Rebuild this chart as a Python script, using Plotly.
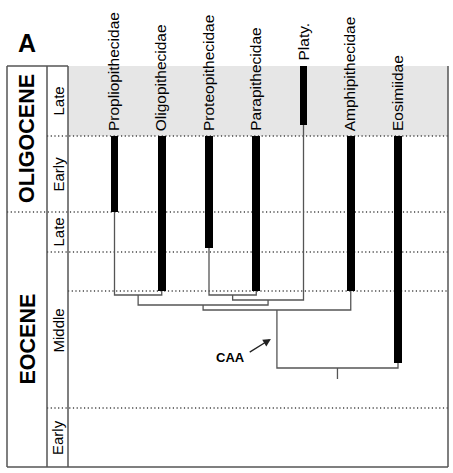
import plotly.graph_objects as go

# ---------------- data ----------------
taxa = ["Propliopithecidae", "Oligopithecidae", "Proteopithecidae",
        "Parapithecidae", "Platy.", "Amphipithecidae", "Eosimiidae"]
# stratigraphic range of each taxon (relative time units, 0 = top of chart, increasing = older)
range_top = [70, 70, 70, 70, 0, 70, 70]
range_bottom = [146, 225, 182, 225, 59, 225, 297]

epochs = ["OLIGOCENE", "EOCENE"]
epoch_bounds = [0, 146, 401]
stages = ["Late", "Early", "Late", "Middle", "Early"]
stage_bounds = [0, 70, 146, 186, 342, 401]
extra_levels = [225]

# tree nodes: (left child, right child, join level); children "t#" = taxon, "n#" = node
nodes = [("t0", "t1", 229), ("t2", "t3", 229), ("n1", "t4", 234),
         ("n0", "n2", 239), ("n3", "t5", 244), ("n4", "t6", 302)]
root_end = 313

caa_label = "CAA"
caa_head = (3.31, 273)
caa_tail = (2.83, 287)
caa_text_pos = (2.46, 291)

# ---------------- layout helpers ----------------
W, H = 453, 473
PX0, PXS = 114.5, 47.25          # pixel of taxon 0, pixel spacing
PY0 = 66                         # pixel of time 0
xr = [(0 - PX0) / PXS, (W - PX0) / PXS]
yr = [H - PY0, 0 - PY0]


def px(p):
    return p / W


FRAME_L, COL1, COL2, FRAME_R = px(7), px(47), px(68), px(448)
LINE = "#555555"
FONT = "Arial, Liberation Sans, Helvetica, sans-serif"

fig = go.Figure()

# grey band (Late Oligocene)
fig.add_shape(type="rect", xref="paper", yref="y", x0=COL2, x1=FRAME_R,
              y0=stage_bounds[0], y1=stage_bounds[1], fillcolor="#e6e6e6",
              line_width=0, layer="below")

# dotted level lines
dot = dict(color="#444444", width=1.3, dash="1.2px,2.5px")
for b in epoch_bounds[1:-1]:
    fig.add_shape(type="line", xref="paper", yref="y", x0=FRAME_L, x1=FRAME_R,
                  y0=b, y1=b, line=dot, layer="below")
for b in stage_bounds[1:-1]:
    if b in epoch_bounds:
        continue
    fig.add_shape(type="line", xref="paper", yref="y", x0=COL1, x1=FRAME_R,
                  y0=b, y1=b, line=dot, layer="below")
for b in extra_levels:
    fig.add_shape(type="line", xref="paper", yref="y", x0=COL2, x1=FRAME_R,
                  y0=b, y1=b, line=dot, layer="below")

# frame
fr = dict(color=LINE, width=1.5)
top, bot = stage_bounds[0], stage_bounds[-1]
for xx in (FRAME_L, COL1, COL2):
    fig.add_shape(type="line", xref="paper", yref="y", x0=xx, x1=xx, y0=top, y1=bot, line=fr)
fig.add_shape(type="line", xref="paper", yref="y", x0=FRAME_R, x1=FRAME_R, y0=top, y1=bot, line=fr)
fig.add_shape(type="line", xref="paper", yref="y", x0=FRAME_L, x1=COL2, y0=top, y1=top, line=fr)
fig.add_shape(type="line", xref="paper", yref="y", x0=FRAME_L, x1=FRAME_R, y0=bot, y1=bot, line=fr)

# tree
pos = {f"t{i}": (i, range_bottom[i]) for i in range(len(taxa))}
tx, ty = [], []
for k, (a, b, lvl) in enumerate(nodes):
    xa, ya = pos[a]
    xb, yb = pos[b]
    tx += [xa, xa, xb, xb, None]
    ty += [ya, lvl, lvl, yb, None]
    pos[f"n{k}"] = ((xa + xb) / 2, lvl)
rx, ry = pos[f"n{len(nodes) - 1}"]
tx += [rx, rx, None]
ty += [ry, root_end, None]
fig.add_trace(go.Scatter(x=tx, y=ty, mode="lines", line=dict(color=LINE, width=1.3),
                         hoverinfo="skip", showlegend=False))

# stratigraphic range bars
fig.add_trace(go.Bar(x=list(range(len(taxa))), base=range_top,
                     y=[b - t for t, b in zip(range_top, range_bottom)],
                     width=0.16, marker=dict(color="black", line_width=0),
                     showlegend=False, hoverinfo="skip"))

# taxon labels
for i, name in enumerate(taxa):
    fig.add_annotation(x=i, y=range_top[i], text=name, textangle=-90, showarrow=False,
                       xanchor="center", yanchor="bottom", yshift=3, xshift=-1,
                       font=dict(family=FONT, size=15.5, color="black"))

# stage labels
for k, s in enumerate(stages):
    fig.add_annotation(xref="paper", x=(COL1 + COL2) / 2, y=(stage_bounds[k] + stage_bounds[k + 1]) / 2,
                       text=s, textangle=-90, showarrow=False, xanchor="center", yanchor="middle",
                       font=dict(family=FONT, size=15, color="black"))
for k, e in enumerate(epochs):
    fig.add_annotation(xref="paper", x=(FRAME_L + COL1) / 2, y=(epoch_bounds[k] + epoch_bounds[k + 1]) / 2,
                       text=f"<b>{e}</b>", textangle=-90, showarrow=False, xanchor="center", yanchor="middle",
                       font=dict(family=FONT, size=21.5, color="black"))

# panel letter
fig.add_annotation(xref="paper", yref="paper", x=px(26.5), y=1 - 43 / H, text="<b>A</b>",
                   showarrow=False, xanchor="center", yanchor="middle",
                   font=dict(family=FONT, size=25, color="black"))

# CAA arrow
fig.add_annotation(x=caa_text_pos[0], y=caa_text_pos[1], text=f"<b>{caa_label}</b>", showarrow=False,
                   xanchor="center", yanchor="middle",
                   font=dict(family=FONT, size=13, color="black"))
fig.add_annotation(x=caa_head[0], y=caa_head[1], ax=caa_tail[0], ay=caa_tail[1],
                   axref="x", ayref="y", text="", showarrow=True, arrowhead=2,
                   arrowsize=1.2, arrowwidth=1.3, arrowcolor="#222222")

fig.update_layout(width=W, height=H, margin=dict(l=0, r=0, t=0, b=0),
                  paper_bgcolor="white", plot_bgcolor="white",
                  xaxis=dict(range=xr, visible=False, fixedrange=True),
                  yaxis=dict(range=yr, visible=False, fixedrange=True),
                  bargap=0)
fig.write_html("out.html")
